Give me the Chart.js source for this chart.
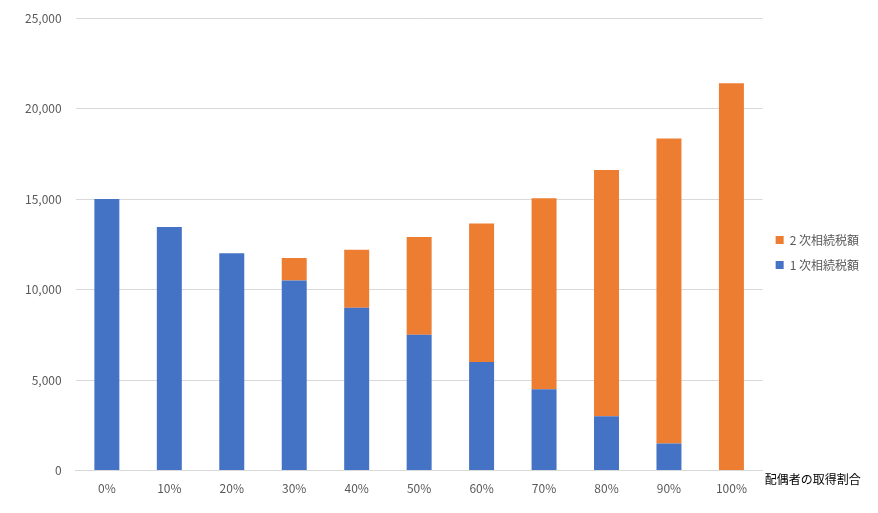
<!DOCTYPE html>
<html>
<head>
<meta charset="utf-8">
<script src="https://cdn.jsdelivr.net/npm/chart.js@4"></script>
<style>
  html, body { margin: 0; padding: 0; background: #fff; }
  #wrap { width: 878px; height: 513px; position: relative; }
</style>
</head>
<body>
<div id="wrap"><canvas id="chart"></canvas></div>
<script>
const categories = ["0%", "10%", "20%", "30%", "40%", "50%", "60%", "70%", "80%", "90%", "100%"];
const firstTax = [15000, 13450, 12000, 10500, 9000, 7500, 6000, 4500, 3000, 1500, 0];
const secondTax = [0, 0, 0, 1250, 3200, 5400, 7650, 10550, 13600, 16850, 21400];
const seriesNames = ["1 次相続税額", "2 次相続税額"];
const xTitle = "配偶者の取得割合";

const FONT = "'Noto Sans CJK JP', 'Noto Sans', sans-serif";

const xTitlePlugin = {
  id: "xTitle",
  afterDraw(chart) {
    const ctx = chart.ctx;
    const area = chart.chartArea;
    ctx.save();
    ctx.font = "12px " + FONT;
    ctx.fillStyle = "#000";
    ctx.textBaseline = "middle";
    ctx.textAlign = "left";
    ctx.fillText(xTitle, area.right + 2, area.bottom + 9);
    ctx.restore();
  }
};

new Chart(document.getElementById("chart"), {
  type: "bar",
  data: {
    labels: categories,
    datasets: [
      { label: seriesNames[0], data: firstTax, backgroundColor: "#4472C4" },
      { label: seriesNames[1], data: secondTax, backgroundColor: "#ED7D31" }
    ]
  },
  options: {
    responsive: true,
    maintainAspectRatio: false,
    animation: false,
    layout: { padding: { top: 6, right: 9, bottom: 14, left: 11 } },
    datasets: { bar: { categoryPercentage: 1, barPercentage: 0.4 } },
    plugins: {
      tooltip: { enabled: false },
      legend: {
        position: "right",
        reverse: true,
        labels: {
          boxWidth: 8,
          boxHeight: 8,
          padding: 13,
          color: "#595959",
          font: { family: FONT, size: 12 }
        }
      }
    },
    scales: {
      x: {
        stacked: true,
        grid: { display: false },
        border: { color: "#d9d9d9" },
        ticks: { color: "#595959", font: { family: FONT, size: 12 }, padding: 3 }
      },
      y: {
        stacked: true,
        min: 0,
        max: 25000,
        afterFit(scale) { scale.paddingTop = 18; },
        ticks: {
          stepSize: 5000,
          color: "#595959",
          font: { family: FONT, size: 12 },
          padding: 14,
          callback: v => v.toLocaleString("en-US")
        },
        grid: { color: "#d9d9d9", drawTicks: false },
        border: { display: false }
      }
    }
  },
  plugins: [xTitlePlugin]
});
</script>
</body>
</html>
